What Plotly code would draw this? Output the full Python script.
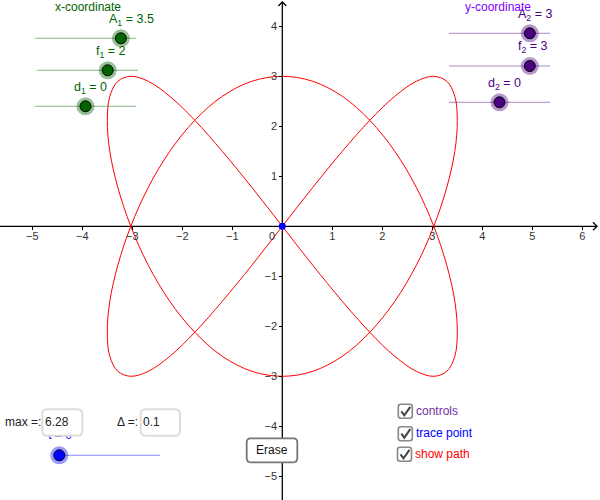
import plotly.graph_objects as go

# path
path_x = [0, 0.61, 1.2, 1.75, 2.25, 2.68, 3.03, 3.29, 3.45, 3.5, 3.45, 3.29, 3.03, 2.68, 2.25, 1.75, 1.2, 0.61, 0,
          -0.61, -1.2, -1.75, -2.25, -2.68, -3.03, -3.29, -3.45, -3.5, -3.45, -3.29, -3.03, -2.68, -2.25, -1.75, -1.2, -0.61, 0,
          0.61, 1.2, 1.75, 2.25, 2.68, 3.03, 3.29, 3.45, 3.5, 3.45, 3.29, 3.03, 2.68, 2.25, 1.75, 1.2, 0.61, 0,
          -0.61, -1.2, -1.75, -2.25, -2.68, -3.03, -3.29, -3.45, -3.5, -3.45, -3.29, -3.03, -2.68, -2.25, -1.75, -1.2, -0.61, 0]
path_y = [0, 0.78, 1.5, 2.12, 2.6, 2.9, 3, 2.9, 2.6, 2.12, 1.5, 0.78, 0, -0.78, -1.5, -2.12, -2.6, -2.9, -3,
          -2.9, -2.6, -2.12, -1.5, -0.78, 0, 0.78, 1.5, 2.12, 2.6, 2.9, 3, 2.9, 2.6, 2.12, 1.5, 0.78, 0,
          -0.78, -1.5, -2.12, -2.6, -2.9, -3, -2.9, -2.6, -2.12, -1.5, -0.78, 0, 0.78, 1.5, 2.12, 2.6, 2.9, 3,
          2.9, 2.6, 2.12, 1.5, 0.78, 0, -0.78, -1.5, -2.12, -2.6, -2.9, -3, -2.9, -2.6, -2.12, -1.5, -0.78, 0]

x_ticks = [-5, -4, -3, -2, -1, 1, 2, 3, 4, 5, 6]
y_ticks = [-5, -4, -3, -2, -1, 1, 2, 3, 4]

slider_names = ["A<sub>1</sub>", "f<sub>1</sub>", "d<sub>1</sub>", "A<sub>2</sub>", "f<sub>2</sub>", "d<sub>2</sub>"]
slider_values = [3.5, 2, 0, 3, 3, 0]

FONT = "Liberation Sans"
GREEN = "#006400"
PURPLE = "#4b0082"
UNIT = 50
X0, Y0 = 282.3, 226.3

# track left edge, track y, label x, label y
slider_pos = [(35, 38.3, 109, 20), (37, 70.3, 96, 52), (35, 106.3, 74, 88),
              (449, 33.3, 518, 15), (449, 66, 518, 47), (449, 102.3, 488, 84)]
slider_col = [GREEN] * 3 + [PURPLE] * 3


def rrect(x0, y0, x1, y1, r):
    return (f"M{x0 + r},{y0} L{x1 - r},{y0} Q{x1},{y0} {x1},{y0 + r} L{x1},{y1 - r} Q{x1},{y1} {x1 - r},{y1} "
            f"L{x0 + r},{y1} Q{x0},{y1} {x0},{y1 - r} L{x0},{y0 + r} Q{x0},{y0} {x0 + r},{y0} Z")


fig = go.Figure()

fig.add_trace(go.Scatter(x=path_x, y=path_y, mode="lines", line=dict(color="#ff0000", width=1, shape="spline", smoothing=1)))
fig.add_trace(go.Scatter(x=[0], y=[0], mode="markers", marker=dict(size=7, color="#0000ff")))


def add_slider(x0, y, hx, col):
    fig.add_trace(go.Scatter(x=[x0, x0 + 101], y=[y, y], mode="lines", xaxis="x2", yaxis="y2",
                             line=dict(color=col, width=1), opacity=0.45))
    fig.add_trace(go.Scatter(x=[hx], y=[y], mode="markers", xaxis="x2", yaxis="y2",
                             marker=dict(size=18, color=col, opacity=0.4)))
    fig.add_trace(go.Scatter(x=[hx], y=[y], mode="markers", xaxis="x2", yaxis="y2",
                             marker=dict(size=11, color=col, line=dict(color="black", width=1))))


annotations = []


def add_text(x, y, text, col, size=12, anchor="left"):
    # annotations pad their text by about 2px
    annotations.append(dict(x=x - 2 if anchor == "left" else x, y=y, xref="x2", yref="y2", text=text, showarrow=False,
                            xanchor=anchor, yanchor="middle", font=dict(family=FONT, size=size, color=col)))


# sliders run from -5 to 5
for name, val, pos, col in zip(slider_names, slider_values, slider_pos, slider_col):
    x0, y, lx, ly = pos
    add_slider(x0, y, x0 + (val + 5) / 10 * 101, col)
    add_text(lx, ly, f"{name} = {val}", col, size=12.5)

# t slider, its label sits under the max box
add_slider(59, 455.3, 59.3, "#0000ff")
fig.add_trace(go.Scatter(x=[60], y=[436], mode="text", text=["t = 0"], xaxis="x2", yaxis="y2",
                         textfont=dict(family=FONT, size=12, color="#0000ff")))

add_text(55, 7, "x-coordinate", GREEN)
add_text(465, 6.5, "y-coordinate", "#7f00ff")
add_text(5, 422, "max =:", "#222222")
add_text(117, 422, "Δ =:", "#222222")
add_text(45, 422, "6.28", "#222222")
add_text(143, 422, "0.1", "#222222")
add_text(272.3, 450, "Erase", "#111111", anchor="center")
add_text(416, 411, "controls", "#7030a0")
add_text(416, 433, "trace point", "#0000ff")
add_text(415, 454, "show path", "#ff0000")
add_text(272, 236, "0", "#333333", size=11, anchor="center")

shapes = []


def add_shape(**kw):
    shapes.append(dict(xref="x2", yref="y2", **kw))


# axes with open arrow heads
axis_line = dict(color="black", width=1.3)
add_shape(type="line", x0=0, y0=Y0, x1=597, y1=Y0, line=axis_line, layer="below")
add_shape(type="line", x0=X0, y0=2, x1=X0, y1=500, line=axis_line, layer="below")
add_shape(type="path", path=f"M593,{Y0 - 4} L597,{Y0} L593,{Y0 + 4}", line=axis_line, layer="below")
add_shape(type="path", path=f"M{X0 - 4},6 L{X0},2 L{X0 + 4},6", line=axis_line, layer="below")

for bx0, bx1 in [(42.3, 82.3), (140.7, 180)]:
    add_shape(type="path", path=rrect(bx0, 409.3, bx1, 435.7, 5), fillcolor="white",
              line=dict(color="#dddddd", width=2), layer="above")
add_shape(type="path", path=rrect(246.7, 438.3, 297.3, 462.3, 4), fillcolor="white",
          line=dict(color="#777777", width=1.8), layer="above")

for cx, cy in [(398.3, 404.3), (398.3, 426.7), (397.5, 447.3)]:
    add_shape(type="path", path=rrect(cx, cy, cx + 14, cy + 14, 2.5), fillcolor="white",
              line=dict(color="#888888", width=1.6), layer="above")
    add_shape(type="path", path=f"M{cx + 3},{cy + 7} L{cx + 6},{cy + 11} L{cx + 12},{cy + 2.5}",
              line=dict(color="#444444", width=2), layer="above")

fig.update_layout(
    width=600,
    height=500,
    margin=dict(l=0, r=0, t=0, b=0),
    paper_bgcolor="white",
    plot_bgcolor="white",
    showlegend=False,
    annotations=annotations,
    shapes=shapes,
    xaxis=dict(range=[-X0 / UNIT, (600 - X0) / UNIT], domain=[0, 1], anchor="free", position=(500 - Y0) / 500,
               tickmode="array", tickvals=x_ticks, ticks="outside", ticklen=3, tickcolor="black",
               showgrid=False, zeroline=False, showline=False, ticklabelstandoff=-4,
               tickfont=dict(family=FONT, size=11, color="#333333")),
    yaxis=dict(range=[(Y0 - 500) / UNIT, Y0 / UNIT], domain=[0, 1], anchor="free", position=X0 / 600,
               tickmode="array", tickvals=y_ticks, ticks="outside", ticklen=3, tickcolor="black",
               showgrid=False, zeroline=False, showline=False,
               tickfont=dict(family=FONT, size=11, color="#333333")),
    # pixel axes for the controls
    xaxis2=dict(range=[0, 600], overlaying="x", anchor="y2", visible=False),
    yaxis2=dict(range=[500, 0], overlaying="y", anchor="x2", visible=False),
)

fig.write_html("out.html", config=dict(displayModeBar=False),
               post_script="document.body.style.margin='0';document.body.style.overflow='hidden';")
